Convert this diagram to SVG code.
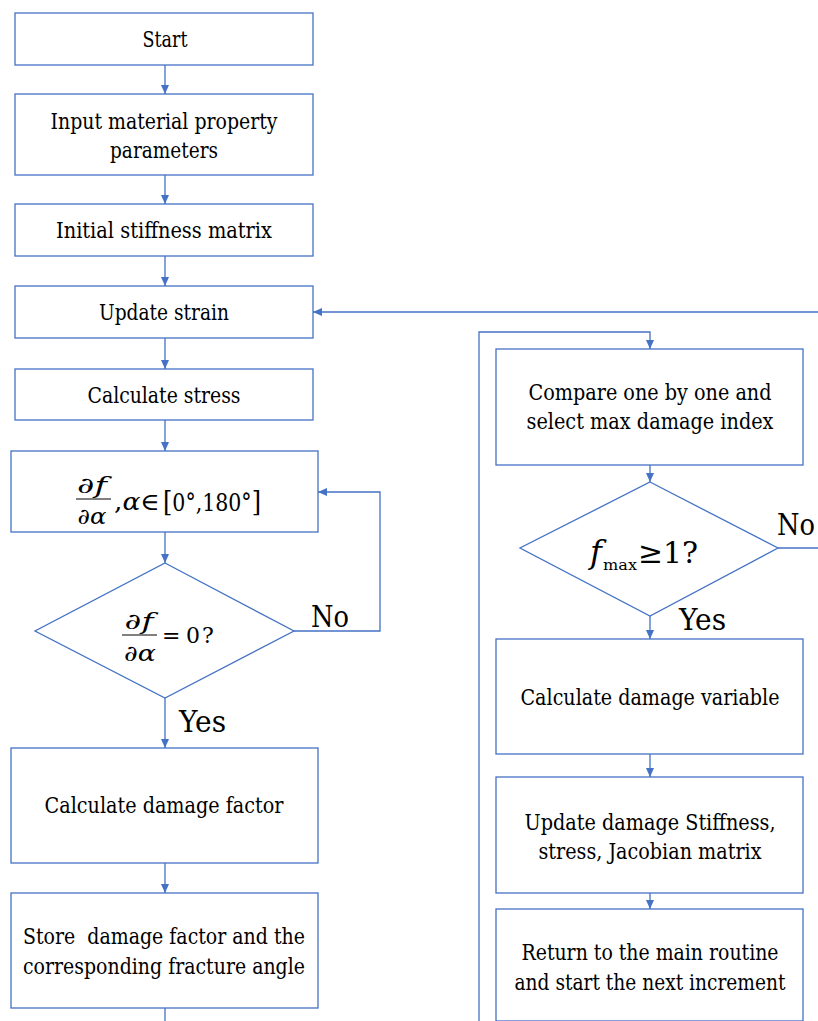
<svg xmlns="http://www.w3.org/2000/svg" width="818" height="1021" viewBox="0 0 818 1021" font-family="'DejaVu Serif', serif">
<defs>
<marker id="ah" markerWidth="10" markerHeight="10" refX="9" refY="5" orient="auto" markerUnits="userSpaceOnUse">
<path d="M0,1 L9,5 L0,9 Z" fill="#4472C4"/>
</marker>
<style>
.box{fill:#fff;stroke:#4472C4;stroke-width:1.3}
.con{fill:none;stroke:#4472C4;stroke-width:1.3}
.t{font-size:22px;fill:#000;text-anchor:middle}
.lbl{font-size:29px;fill:#000}
.m{fill:#000}
.i{font-style:italic}
</style>
</defs>
<rect width="818" height="1021" fill="#fff"/>
<g id="connectors">
<line class="con" x1="165" y1="65" x2="165" y2="94" marker-end="url(#ah)"/>
<line class="con" x1="165" y1="175" x2="165" y2="204" marker-end="url(#ah)"/>
<line class="con" x1="165" y1="256" x2="165" y2="286" marker-end="url(#ah)"/>
<line class="con" x1="165" y1="338" x2="165" y2="369" marker-end="url(#ah)"/>
<line class="con" x1="165" y1="420" x2="165" y2="451" marker-end="url(#ah)"/>
<line class="con" x1="165" y1="532" x2="165" y2="563" marker-end="url(#ah)"/>
<line class="con" x1="165" y1="698" x2="165" y2="748" marker-end="url(#ah)"/>
<line class="con" x1="165" y1="863" x2="165" y2="893" marker-end="url(#ah)"/>
<line class="con" x1="165" y1="1008" x2="165" y2="1021"/>
<polyline class="con" points="294,631 380,631 380,492 318,492" marker-end="url(#ah)"/>
<line class="con" x1="818" y1="312" x2="313" y2="312" marker-end="url(#ah)"/>
<polyline class="con" points="479,1021 479,332 650,332 650,349" marker-end="url(#ah)"/>
<line class="con" x1="650" y1="465" x2="650" y2="482" marker-end="url(#ah)"/>
<line class="con" x1="650" y1="616" x2="650" y2="639" marker-end="url(#ah)"/>
<line class="con" x1="650" y1="754" x2="650" y2="777" marker-end="url(#ah)"/>
<line class="con" x1="650" y1="893" x2="650" y2="909" marker-end="url(#ah)"/>
<line class="con" x1="778" y1="548" x2="818" y2="548"/>
<text class="lbl" x="311" y="627" textLength="38" lengthAdjust="spacingAndGlyphs">No</text>
<text class="lbl" x="179" y="732" textLength="47" lengthAdjust="spacingAndGlyphs">Yes</text>
<text class="lbl" x="777" y="535" textLength="38" lengthAdjust="spacingAndGlyphs">No</text>
<text class="lbl" x="679" y="630" textLength="47" lengthAdjust="spacingAndGlyphs">Yes</text>
</g>
<g id="start">
<rect class="box" x="15" y="13" width="298" height="52"/>
<text class="t" x="165" y="47" textLength="45" lengthAdjust="spacingAndGlyphs">Start</text>
</g>
<g id="input">
<rect class="box" x="15" y="94" width="298" height="81"/>
<text class="t" x="164" y="129" textLength="227" lengthAdjust="spacingAndGlyphs">Input material property</text>
<text class="t" x="164" y="158" textLength="108" lengthAdjust="spacingAndGlyphs">parameters</text>
</g>
<g id="initial">
<rect class="box" x="15" y="204" width="298" height="52"/>
<text class="t" x="164" y="238" textLength="216" lengthAdjust="spacingAndGlyphs">Initial stiffness matrix</text>
</g>
<g id="update-strain">
<rect class="box" x="15" y="286" width="298" height="52"/>
<text class="t" x="164" y="320" textLength="130" lengthAdjust="spacingAndGlyphs">Update strain</text>
</g>
<g id="calc-stress">
<rect class="box" x="15" y="369" width="298" height="51"/>
<text class="t" x="164" y="403" textLength="153" lengthAdjust="spacingAndGlyphs">Calculate stress</text>
</g>
<g id="derivative">
<rect class="box" x="11" y="451" width="307" height="81"/>
<text class="m" x="92" y="493" font-size="22" text-anchor="middle" textLength="30" lengthAdjust="spacingAndGlyphs">∂<tspan class="i">f</tspan></text>
<line x1="76" y1="499" x2="111" y2="499" stroke="#000" stroke-width="1"/>
<text class="m" x="92" y="524" font-size="22" text-anchor="middle" textLength="29" lengthAdjust="spacingAndGlyphs">∂<tspan class="i">α</tspan></text>
<text class="m" x="114" y="510" font-size="24" textLength="46" lengthAdjust="spacingAndGlyphs">,<tspan class="i">α</tspan>∈</text>
<text class="m" x="163" y="511" font-size="24" textLength="98" lengthAdjust="spacingAndGlyphs"><tspan font-size="28">[</tspan>0°,180°<tspan font-size="28">]</tspan></text>
</g>
<g id="decision1">
<polygon class="box" points="165,563 294,631 165,698 35,631"/>
<text class="m" x="139" y="629" font-size="22" text-anchor="middle" textLength="29" lengthAdjust="spacingAndGlyphs">∂<tspan class="i">f</tspan></text>
<line x1="122" y1="635" x2="157" y2="635" stroke="#000" stroke-width="1"/>
<text class="m" x="140" y="661" font-size="22" text-anchor="middle" textLength="32" lengthAdjust="spacingAndGlyphs">∂<tspan class="i">α</tspan></text>
<text class="m" x="162" y="643" font-size="22">=</text>
<text class="m" x="186" y="643" font-size="22">0</text>
<text class="m" x="202" y="643" font-size="22">?</text>
</g>
<g id="calc-damage-factor">
<rect class="box" x="11" y="748" width="307" height="115"/>
<text class="t" x="164" y="813" textLength="239" lengthAdjust="spacingAndGlyphs">Calculate damage factor</text>
</g>
<g id="store">
<rect class="box" x="11" y="893" width="307" height="115"/>
<text class="t" x="164" y="944" xml:space="preserve" textLength="282" lengthAdjust="spacingAndGlyphs">Store  damage factor and the</text>
<text class="t" x="164" y="974" textLength="282" lengthAdjust="spacingAndGlyphs">corresponding fracture angle</text>
</g>
<g id="compare">
<rect class="box" x="496" y="349" width="307" height="116"/>
<text class="t" x="650" y="400" textLength="243" lengthAdjust="spacingAndGlyphs">Compare one by one and</text>
<text class="t" x="650" y="429" textLength="247" lengthAdjust="spacingAndGlyphs">select max damage index</text>
</g>
<g id="decision2">
<polygon class="box" points="650,482 778,548 650,616 520,548"/>
<text class="m i" x="590" y="563" font-size="32">f</text>
<text class="m" x="603" y="570" font-size="15" textLength="34" lengthAdjust="spacingAndGlyphs">max</text>
<text class="m" x="638" y="563" font-size="30" textLength="60" lengthAdjust="spacingAndGlyphs">≥1?</text>
</g>
<g id="calc-damage-variable">
<rect class="box" x="496" y="639" width="307" height="115"/>
<text class="t" x="650" y="705" textLength="259" lengthAdjust="spacingAndGlyphs">Calculate damage variable</text>
</g>
<g id="update-damage">
<rect class="box" x="496" y="777" width="307" height="116"/>
<text class="t" x="650" y="830" textLength="251" lengthAdjust="spacingAndGlyphs">Update damage Stiffness,</text>
<text class="t" x="650" y="859" textLength="223" lengthAdjust="spacingAndGlyphs">stress, Jacobian matrix</text>
</g>
<g id="return">
<rect class="box" x="496" y="909" width="307" height="112"/>
<text class="t" x="650" y="960" textLength="257" lengthAdjust="spacingAndGlyphs">Return to the main routine</text>
<text class="t" x="650" y="990" textLength="271" lengthAdjust="spacingAndGlyphs">and start the next increment</text>
</g>
</svg>
